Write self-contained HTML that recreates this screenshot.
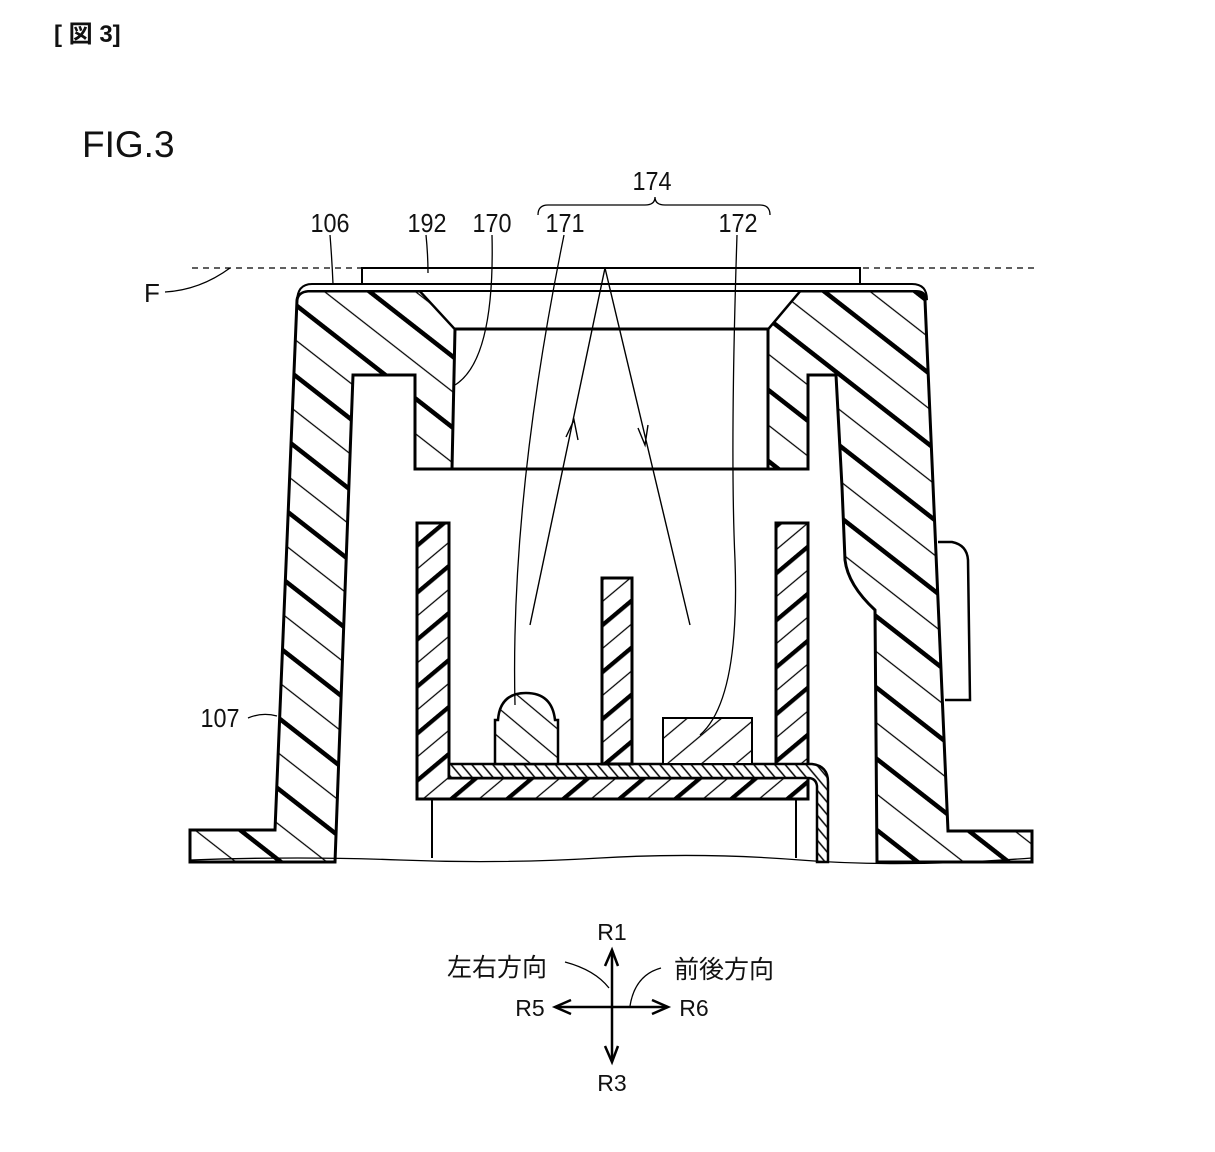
<!DOCTYPE html>
<html><head><meta charset="utf-8"><style>
html,body{margin:0;padding:0;background:#fff;}
svg{display:block;}
text{font-family:"Liberation Sans","Noto Sans CJK JP",sans-serif;fill:#111;}
</style></head><body>
<svg width="1215" height="1152" viewBox="0 0 1215 1152" xmlns="http://www.w3.org/2000/svg">
<defs>
<pattern id="hA" patternUnits="userSpaceOnUse" width="56" height="56" patternTransform="rotate(38)">
<rect width="56" height="56" fill="#fff"/>
<line x1="0" y1="2" x2="56" y2="2" stroke="#000" stroke-width="5"/>
<line x1="0" y1="30" x2="56" y2="30" stroke="#000" stroke-width="1.3"/>
</pattern>
<pattern id="hB" patternUnits="userSpaceOnUse" width="36" height="36" patternTransform="rotate(-40)">
<rect width="36" height="36" fill="#fff"/>
<line x1="0" y1="2" x2="36" y2="2" stroke="#000" stroke-width="4.5"/>
<line x1="0" y1="20" x2="36" y2="20" stroke="#000" stroke-width="1.2"/>
</pattern>
<pattern id="hT" patternUnits="userSpaceOnUse" width="22" height="22" patternTransform="rotate(-40)">
<rect width="22" height="22" fill="#fff"/>
<line x1="0" y1="2" x2="22" y2="2" stroke="#000" stroke-width="1.2"/>
</pattern>
<pattern id="hS" patternUnits="userSpaceOnUse" width="22" height="22" patternTransform="rotate(40)">
<rect width="22" height="22" fill="#fff"/>
<line x1="0" y1="2" x2="22" y2="2" stroke="#000" stroke-width="1.2"/>
</pattern>
<pattern id="hF" patternUnits="userSpaceOnUse" width="8" height="8" patternTransform="rotate(50)">
<rect width="8" height="8" fill="#fff"/>
<line x1="0" y1="2" x2="8" y2="2" stroke="#000" stroke-width="1.5"/>
</pattern>
</defs>

<text x="54" y="42" font-size="24" font-weight="bold">[ 図 3]</text>
<text x="82" y="157" font-size="37">FIG.3</text>

<line x1="192" y1="268" x2="1035" y2="268" stroke="#000" stroke-width="1.2" stroke-dasharray="6,5"/>
<rect x="362" y="268" width="498" height="16" fill="#fff" stroke="#000" stroke-width="2"/>

<path d="M297,300 Q298,292 308,291 L420,291 L455,329 L452,469 L415,469 L415,375 L353,375 L335,862 L190,862 L190,830 L275,830 Z" fill="url(#hA)" stroke="#000" stroke-width="3"/>
<path d="M800,291 L916,291 Q924,292 925,300 L948,831 L1032,831 L1032,862 L877,862 L875,610 Q848,585 845,560 L842,487 L836,375 L808,375 L808,469 L768,469 L768,329 Z" fill="url(#hA)" stroke="#000" stroke-width="3"/>
<path d="M297,302 Q297,284 312,284 L912,284 Q927,284 927,300 L925,296 Q924,291 916,291 L308,291 Q298,292 297,300 Z" fill="#fff" stroke="#000" stroke-width="2"/>
<path d="M420,291 L800,291 L768,329 L455,329 Z" fill="#fff" stroke="#000" stroke-width="2"/>
<line x1="455" y1="329" x2="768" y2="329" stroke="#000" stroke-width="3"/>
<line x1="452" y1="469" x2="808" y2="469" stroke="#000" stroke-width="3"/>
<path d="M938,542 L952,542 Q967,545 968,560 L970,700 L945,700" fill="none" stroke="#000" stroke-width="2.5"/>

<path d="M417,523 L449,523 L449,778 L776,778 L776,523 L808,523 L808,799 L417,799 Z" fill="url(#hB)" stroke="#000" stroke-width="3"/>
<path d="M449,764 L812,764 Q828,766 828,782 L828,862 L817,862 L817,786 Q816,778 808,778 L449,778 Z" fill="url(#hF)" stroke="#000" stroke-width="2.5"/>
<rect x="602" y="578" width="30" height="186" fill="url(#hB)" stroke="#000" stroke-width="3"/>
<path d="M495,764 L495,720 L498,720 Q500,693 526,693 Q552,693 555,720 L558,720 L558,764 Z" fill="url(#hS)" stroke="#000" stroke-width="2.5"/>
<rect x="663" y="718" width="89" height="46" fill="url(#hT)" stroke="#000" stroke-width="2"/>
<line x1="432" y1="799" x2="432" y2="858" stroke="#000" stroke-width="2"/>
<line x1="796" y1="799" x2="796" y2="858" stroke="#000" stroke-width="2"/>
<path d="M190,860 Q300,856 400,860 T600,858 T800,860 T1032,858" fill="none" stroke="#000" stroke-width="1.3"/>

<path d="M530,625 L605,268 L690,625" fill="none" stroke="#000" stroke-width="1.4"/>
<path d="M566,437 L574,420 L578,440" fill="none" stroke="#000" stroke-width="1.4"/>
<path d="M638,428 L645,445 L648,425" fill="none" stroke="#000" stroke-width="1.4"/>

<path d="M330,235 Q332,260 333,284" fill="none" stroke="#000" stroke-width="1.3"/>
<path d="M426,235 Q428,255 428,273" fill="none" stroke="#000" stroke-width="1.3"/>
<path d="M492,235 Q495,360 455,385" fill="none" stroke="#000" stroke-width="1.3"/>
<path d="M564,235 Q510,500 515,705" fill="none" stroke="#000" stroke-width="1.3"/>
<path d="M737,235 Q730,450 735,560 Q740,700 700,735" fill="none" stroke="#000" stroke-width="1.3"/>
<path d="M165,292 Q200,290 230,268" fill="none" stroke="#000" stroke-width="1.3"/>
<path d="M248,718 Q262,712 277,716" fill="none" stroke="#000" stroke-width="1.3"/>
<path d="M538,215 Q538,205 548,205 L645,205 Q655,205 655,197 Q655,205 665,205 L760,205 Q770,205 770,215" fill="none" stroke="#000" stroke-width="1.3"/>

<g font-size="26">
<text x="652" y="190" text-anchor="middle" transform="translate(652,0) scale(0.9,1) translate(-652,0)">174</text>
<text x="330" y="232" text-anchor="middle" transform="translate(330,0) scale(0.9,1) translate(-330,0)">106</text>
<text x="427" y="232" text-anchor="middle" transform="translate(427,0) scale(0.9,1) translate(-427,0)">192</text>
<text x="492" y="232" text-anchor="middle" transform="translate(492,0) scale(0.9,1) translate(-492,0)">170</text>
<text x="565" y="232" text-anchor="middle" transform="translate(565,0) scale(0.9,1) translate(-565,0)">171</text>
<text x="738" y="232" text-anchor="middle" transform="translate(738,0) scale(0.9,1) translate(-738,0)">172</text>
<text x="152" y="302" text-anchor="middle">F</text>
<text x="220" y="727" text-anchor="middle" transform="translate(220,0) scale(0.9,1) translate(-220,0)">107</text>
</g>

<g stroke="#000" stroke-width="2.5" fill="none">
<line x1="612" y1="950" x2="612" y2="1062"/>
<line x1="555" y1="1007" x2="668" y2="1007"/>
<path d="M605,966 L612,950 L618,966"/>
<path d="M605,1046 L612,1062 L618,1046"/>
<path d="M571,1000 L555,1007 L571,1014"/>
<path d="M652,1000 L668,1007 L652,1014"/>
</g>
<path d="M565,962 Q595,970 609,988" fill="none" stroke="#000" stroke-width="1.3"/>
<path d="M661,968 Q635,975 630,1006" fill="none" stroke="#000" stroke-width="1.3"/>
<g font-size="23">
<text x="612" y="940" text-anchor="middle">R1</text>
<text x="612" y="1091" text-anchor="middle">R3</text>
<text x="530" y="1016" text-anchor="middle">R5</text>
<text x="694" y="1016" text-anchor="middle">R6</text>
<text x="497" y="976" text-anchor="middle" font-size="25">左右方向</text>
<text x="724" y="978" text-anchor="middle" font-size="25">前後方向</text>
</g>
</svg>
</body></html>
